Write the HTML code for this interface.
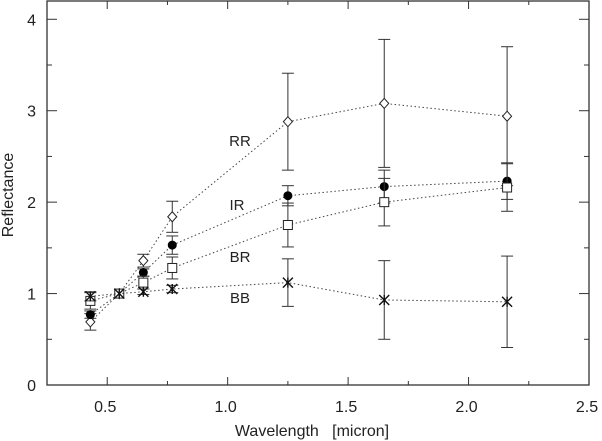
<!DOCTYPE html>
<html><head><meta charset="utf-8"><style>
html,body{margin:0;padding:0;background:#fff;width:602px;height:441px;overflow:hidden}
svg text{font-family:"Liberation Sans",sans-serif;fill:#222}
</style></head><body>
<svg id="chart" width="602" height="441" xmlns="http://www.w3.org/2000/svg"></svg>
<script>
const wavelengths=[0.43,0.55,0.65,0.77,1.25,1.65,2.16];
const seriesNames=["RR","IR","BR","BB"];
const rrVals=[0.69,1.0,1.36,1.84,2.88,3.08,2.94];
const rrErr=[0.09,0,0.07,0.17,0.53,0.70,0.76];
const irVals=[0.77,1.0,1.23,1.53,2.07,2.17,2.23];
const irErr=[0.04,0,0.04,0.10,0.11,0.18,0.20];
const brVals=[0.92,1.0,1.12,1.28,1.75,2.0,2.16];
const brErr=[0.09,0,0.07,0.12,0.24,0.26,0.26];
const bbVals=[0.97,1.0,1.02,1.05,1.12,0.93,0.91];
const bbErr=[0.05,0,0.03,0.04,0.26,0.43,0.50];
const xTicks=[0.5,1.0,1.5,2.0,2.5];
const xTickLabels=["0.5","1.0","1.5","2.0","2.5"];
const yTicks=[0,1,2,3,4];
const yTickLabels=["0","1","2","3","4"];
const labelPos=[[240,141],[237,205],[240,257],[240,298]];

const L=47,R=589,T=1,B=385,xmin=0.25,xmax=2.5,ymin=0,ymax=4.2;
const X=v=>L+(v-xmin)/(xmax-xmin)*(R-L);
const Y=v=>B-(v-ymin)/(ymax-ymin)*(B-T);
const svg=document.getElementById('chart');
const NS='http://www.w3.org/2000/svg';
function mk(tag,attrs,parent){const e=document.createElementNS(NS,tag);for(const k in attrs)e.setAttribute(k,attrs[k]);(parent||svg).appendChild(e);return e;}

const frame=mk('rect',{x:L,y:T,width:R-L,height:B-T,fill:'none',stroke:'#333','stroke-width':1.3});



for(let v=0.5;v<=2.51;v+=0.25){
  const maj=Math.abs(v*2-Math.round(v*2))<1e-6;const len=maj?8:4;
  mk('line',{x1:X(v),x2:X(v),y1:B,y2:B-len,stroke:'#333'});
  mk('line',{x1:X(v),x2:X(v),y1:T,y2:T+len,stroke:'#333'});
}
for(let v=0.5;v<=4.01;v+=0.5){
  const maj=Math.abs(v-Math.round(v))<1e-6;const len=maj?10:5;
  mk('line',{x1:L,x2:L+len,y1:Y(v),y2:Y(v),stroke:'#333'});
  mk('line',{x1:R,x2:R-len,y1:Y(v),y2:Y(v),stroke:'#333'});
}
xTicks.forEach((v,i)=>{
  const t=mk('text',{x:X(v)-2,y:412,'text-anchor':'middle','font-size':16});
  t.textContent=xTickLabels[i];
  
  
});
yTicks.forEach((v,i)=>{
  const t=mk('text',{x:36,y:Y(v)+6,'text-anchor':'end','font-size':16});
  t.textContent=yTickLabels[i];
  
  
});
const xt=mk('text',{x:312,y:436,'text-anchor':'middle','font-size':16});
xt.textContent='Wavelength\u00a0\u00a0\u00a0[micron]';


const yt=mk('text',{x:13,y:195,'text-anchor':'middle','font-size':16,transform:'rotate(-90 13 195)'});
yt.textContent='Reflectance';



const allVals=[rrVals,irVals,brVals,bbVals];
const allErr=[rrErr,irErr,brErr,bbErr];
allVals.forEach((vals,s)=>{
  const g=mk('g',{});
  
  
  const pts=vals.map((v,i)=>X(wavelengths[i])+','+Y(v)).join(' ');
  mk('polyline',{points:pts,fill:'none',stroke:'#444','stroke-width':1,'stroke-dasharray':'1.5,2.5'},g);
  vals.forEach((v,i)=>{
    const x=X(wavelengths[i]),y=Y(v),e=allErr[s][i];
    if(e>0){
      mk('line',{x1:x,x2:x,y1:Y(v-e),y2:Y(v+e),stroke:'#333'},g);
      mk('line',{x1:x-6,x2:x+6,y1:Y(v-e),y2:Y(v-e),stroke:'#333'},g);
      mk('line',{x1:x-6,x2:x+6,y1:Y(v+e),y2:Y(v+e),stroke:'#333'},g);
    }
    let m;
    if(s===0) m=mk('polygon',{points:`${x},${y-5} ${x+4.5},${y} ${x},${y+5} ${x-4.5},${y}`,fill:'#fff',stroke:'#222'},g);
    else if(s===1) m=mk('circle',{cx:x,cy:y,r:4.5,fill:'#000'},g);
    else if(s===2) m=mk('rect',{x:x-4.5,y:y-4.5,width:9,height:9,fill:'#fff',stroke:'#222'},g);
    else { m=mk('path',{d:`M${x-5},${y-5}L${x+5},${y+5}M${x-5},${y+5}L${x+5},${y-5}M${x},${y-5}L${x},${y+5}`,stroke:'#111','stroke-width':1.4},g); }
    
    
  });
  const lb=mk('text',{x:labelPos[s][0],y:labelPos[s][1]+5,'text-anchor':'middle','font-size':15},g);
  lb.textContent=seriesNames[s];
  
  
});
</script>
</body></html>
